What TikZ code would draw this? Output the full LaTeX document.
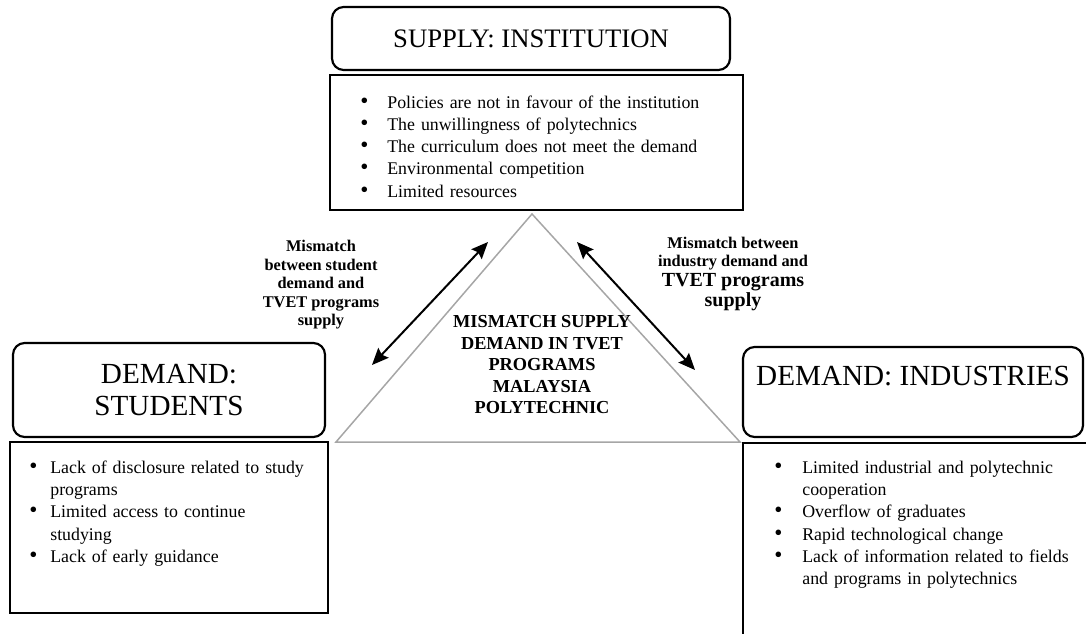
\documentclass[tikz,border=0pt]{standalone}
\usepackage{fontspec}
\setmainfont{Liberation Serif}
\usetikzlibrary{arrows.meta}

\definecolor{trigray}{HTML}{A6A6A6}
\newcommand{\bpoint}[2][16.2pt]{\par\noindent\hangindent=#1\hangafter=1%
  \makebox[#1][l]{\scalebox{1.3}{\textbullet}}#2\par}

\begin{document}
\begin{tikzpicture}[x=0.6pt,y=-0.6pt,
    headbox/.style={draw,rounded corners=7pt,line width=1.3pt,align=center},
    listbox/.style={draw,line width=1.6pt},
    listtext/.style={anchor=north west,inner sep=0pt,text width=260pt,align=left,
      font=\fontsize{10.7}{13.3}\selectfont},
    gaptext/.style={font=\bfseries\fontsize{9.8}{11.1}\selectfont,align=center},
    twohead/.style={{Stealth[length=10pt,width=8.5pt,inset=1.5pt]}-{Stealth[length=10pt,width=8.5pt,inset=1.5pt]},
      line width=1.2pt}]

        \useasboundingbox (0,0) rectangle (1086,634);
        \clip (0,0) rectangle (1086,634);

        % triangle in the middle
        \coordinate (top)   at (532,214);
        \coordinate (left)  at (336,442);
        \coordinate (right) at (740,442);
        \draw[trigray, line width=0.9pt] (top) -- (left) -- (right) -- cycle;

        \node[font=\bfseries\fontsize{11}{12.9}\selectfont, align=center] (core) at (542,365)
          {MISMATCH SUPPLY\\DEMAND IN TVET\\PROGRAMS\\MALAYSIA\\POLYTECHNIC};

        % heads
        \node[headbox, minimum width=238.8pt, minimum height=37.8pt,
              font=\fontsize{16}{19}\selectfont] (supply) at (531,38.5) {SUPPLY: INSTITUTION};
        \node[headbox, minimum width=187.2pt, minimum height=56.4pt,
              font=\fontsize{17.5}{19.4}\selectfont] (students) at (169,390) {DEMAND:\\STUDENTS};
        \node[headbox, minimum width=204pt, minimum height=54pt,
              font=\fontsize{17.5}{19.4}\selectfont] (industries) at (913,392) {DEMAND: INDUSTRIES\\\mbox{}};

        % lists
        \node[listbox, minimum width=247.8pt, minimum height=81pt]    (supplybox)   at (536.5,142.5) {};
        \node[listbox, minimum width=190.8pt, minimum height=102.6pt] (studentbox)  at (169,527.5)   {};
        \node[listbox, minimum width=214.2pt, minimum height=130.2pt] (industrybox) at (921.5,551.5) {};

        \node[listtext] (supplylist) at (360,86) {%
          \bpoint{Policies are not in favour of the institution}
          \bpoint{The unwillingness of polytechnics}
          \bpoint{The curriculum does not meet the demand}
          \bpoint{Environmental competition}
          \bpoint{Limited resources}};
        \node[listtext] (studentlist) at (29,451) {%
          \bpoint[12.6pt]{Lack of disclosure related to study\newline programs}
          \bpoint[12.6pt]{Limited access to continue\newline studying}
          \bpoint[12.6pt]{Lack of early guidance}};
        \node[listtext] (industrylist) at (774,451) {%
          \bpoint[16.8pt]{Limited industrial and polytechnic\newline cooperation}
          \bpoint[16.8pt]{Overflow of graduates}
          \bpoint[16.8pt]{Rapid technological change}
          \bpoint[16.8pt]{Lack of information related to fields\newline and programs in polytechnics}};

        % mismatch arrows
        \coordinate (sa) at (372,365);
        \coordinate (sb) at (488,242);
        \coordinate (ia) at (577,242);
        \coordinate (ib) at (695,370);
        \draw[twohead] (sa) -- (sb);
        \draw[twohead] (ia) -- (ib);

        \node[gaptext] (studentgap) at (321,285)
          {Mismatch\\between student\\demand and\\TVET programs\\supply};
        \node[gaptext] (industrygap) at (733,274)
          {Mismatch between\\industry demand and\\[1pt]{\fontsize{12}{14}\selectfont TVET programs}\\[1pt]{\fontsize{12}{14}\selectfont supply}};

      \end{tikzpicture}
\end{document}
